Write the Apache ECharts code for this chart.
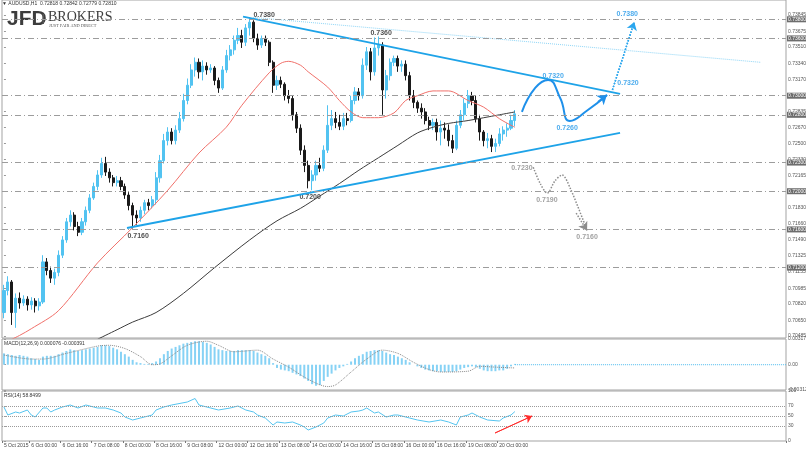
<!DOCTYPE html>
<html><head><meta charset="utf-8">
<script src="https://cdn.jsdelivr.net/npm/echarts/dist/echarts.min.js"></script>
<style>html,body{margin:0;padding:0;background:#fff}#c{width:806px;height:450px}</style>
</head><body><div id="c"></div>
<script>
// ---------------- DATA ----------------
const NCAT = 201; // 2-hour slots across the whole window (data + empty future area)
const xTickIdx = [0,7,15,23,31,39,47,55,63,71,79,87,95,103,111,119,127];
const xTickText = ['5 Oct 2015','6 Oct 00:00','6 Oct 16:00','7 Oct 08:00','8 Oct 00:00','8 Oct 16:00','9 Oct 08:00','12 Oct 00:00','12 Oct 16:00','13 Oct 08:00','14 Oct 00:00','14 Oct 16:00','15 Oct 08:00','16 Oct 00:00','16 Oct 16:00','19 Oct 08:00','20 Oct 00:00'];
const yTickLabels = ['0.70485','0.70650','0.70820','0.70985','0.71155','0.71325','0.71490','0.71660','0.71830','0.71995','0.72165','0.72330','0.72500','0.72670','0.72835','0.73000','0.73170','0.73340','0.73510','0.73675','0.73845'];
const levelValues = [0.7380,0.7360,0.7300,0.7280,0.7230,0.7200,0.7160,0.7120];
const levelLabels = ['0.73800','0.73600','0.73000','0.72800','0.72300','0.72000','0.71600','0.71200'];
const macdTickValues = [-0.003123,0,0.003177];
const macdTickLabels = ['-0.003123','0.00','0.003177'];
const rsiTickValues = [0,30,50,70,100];
const rsiLevels = [30,50,70];

// candles: [open, close, low, high]
const candles = [
[0.7073,0.7096,0.7067,0.7102],[0.7096,0.7105,0.7091,0.7111],[0.7105,0.7073,0.7060,0.7107],[0.7073,0.7088,0.7057,0.7093],
[0.7088,0.7083,0.7077,0.7094],[0.7083,0.7087,0.7080,0.7091],[0.7087,0.7081,0.7075,0.7090],[0.7081,0.7085,0.7076,0.7089],
[0.7085,0.7080,0.7073,0.7088],[0.7080,0.7084,0.7075,0.7088],[0.7084,0.7126,0.7082,0.7133],[0.7126,0.7117,0.7112,0.7130],
[0.7117,0.7109,0.7104,0.7121],[0.7109,0.7115,0.7102,0.7119],[0.7115,0.7133,0.7111,0.7138],[0.7133,0.7149,0.7130,0.7153],
[0.7149,0.7168,0.7146,0.7172],[0.7168,0.7175,0.7163,0.7180],[0.7175,0.7163,0.7159,0.7178],[0.7163,0.7157,0.7153,0.7168],
[0.7157,0.7168,0.7154,0.7172],[0.7168,0.7180,0.7164,0.7184],[0.7180,0.7193,0.7177,0.7197],[0.7193,0.7205,0.7191,0.7209],
[0.7205,0.7217,0.7201,0.7222],[0.7217,0.7229,0.7214,0.7235],[0.7229,0.7220,0.7216,0.7236],[0.7220,0.7214,0.7209,0.7224],
[0.7214,0.7209,0.7205,0.7217],[0.7209,0.7211,0.7205,0.7216],[0.7211,0.7205,0.7201,0.7215],[0.7205,0.7196,0.7192,0.7208],
[0.7196,0.7185,0.7180,0.7199],[0.7185,0.7175,0.7161,0.7188],[0.7175,0.7172,0.7165,0.7180],[0.7172,0.7180,0.7168,0.7184],
[0.7180,0.7188,0.7176,0.7191],[0.7188,0.7185,0.7180,0.7192],[0.7185,0.7191,0.7182,0.7195],[0.7191,0.7214,0.7186,0.7220],
[0.7214,0.7232,0.7209,0.7238],[0.7232,0.7253,0.7229,0.7260],[0.7253,0.7262,0.7248,0.7267],[0.7262,0.7253,0.7249,0.7266],
[0.7253,0.7264,0.7249,0.7269],[0.7264,0.7276,0.7261,0.7283],[0.7276,0.7295,0.7273,0.7302],[0.7295,0.7311,0.7291,0.7318],
[0.7311,0.7327,0.7308,0.7333],[0.7327,0.7335,0.7320,0.7340],[0.7335,0.7325,0.7318,0.7339],[0.7325,0.7331,0.7316,0.7337],
[0.7331,0.7327,0.7322,0.7335],[0.7327,0.7329,0.7324,0.7333],[0.7329,0.7316,0.7311,0.7331],[0.7316,0.7308,0.7303,0.7319],
[0.7308,0.7327,0.7306,0.7331],[0.7327,0.7342,0.7324,0.7348],[0.7342,0.7348,0.7337,0.7353],[0.7348,0.7358,0.7343,0.7363],
[0.7358,0.7363,0.7354,0.7371],[0.7363,0.7356,0.7350,0.7369],[0.7356,0.7371,0.7352,0.7375],[0.7371,0.7377,0.7363,0.7382],
[0.7377,0.7360,0.7356,0.7379],[0.7360,0.7353,0.7348,0.7365],[0.7353,0.7360,0.7350,0.7363],[0.7360,0.7356,0.7352,0.7363],
[0.7356,0.7335,0.7331,0.7358],[0.7335,0.7311,0.7303,0.7337],[0.7311,0.7316,0.7306,0.7321],[0.7316,0.7312,0.7308,0.7320],
[0.7312,0.7300,0.7295,0.7314],[0.7300,0.7297,0.7292,0.7306],[0.7297,0.7280,0.7274,0.7300],[0.7280,0.7266,0.7261,0.7283],
[0.7266,0.7243,0.7238,0.7270],[0.7243,0.7227,0.7220,0.7248],[0.7227,0.7211,0.7203,0.7232],[0.7211,0.7217,0.7201,0.7222],
[0.7217,0.7227,0.7211,0.7232],[0.7227,0.7224,0.7220,0.7235],[0.7224,0.7243,0.7221,0.7248],[0.7243,0.7269,0.7240,0.7290],
[0.7269,0.7276,0.7264,0.7285],[0.7276,0.7272,0.7266,0.7283],[0.7272,0.7268,0.7264,0.7280],[0.7268,0.7276,0.7264,0.7282],
[0.7276,0.7274,0.7269,0.7282],[0.7274,0.7295,0.7272,0.7300],[0.7295,0.7304,0.7291,0.7309],[0.7304,0.7300,0.7295,0.7308],
[0.7300,0.7332,0.7297,0.7339],[0.7332,0.7346,0.7327,0.7351],[0.7346,0.7325,0.7316,0.7350],[0.7325,0.7350,0.7321,0.7361],
[0.7350,0.7353,0.7342,0.7362],[0.7353,0.7306,0.7280,0.7356],[0.7306,0.7321,0.7297,0.7327],[0.7321,0.7335,0.7316,0.7339],
[0.7335,0.7339,0.7331,0.7342],[0.7339,0.7331,0.7325,0.7342],[0.7331,0.7333,0.7325,0.7337],[0.7333,0.7321,0.7316,0.7337],
[0.7321,0.7300,0.7295,0.7325],[0.7300,0.7293,0.7287,0.7306],[0.7293,0.7287,0.7282,0.7295],[0.7287,0.7283,0.7276,0.7292],
[0.7283,0.7274,0.7270,0.7287],[0.7274,0.7269,0.7264,0.7278],[0.7269,0.7272,0.7264,0.7276],[0.7272,0.7262,0.7253,0.7276],
[0.7262,0.7266,0.7248,0.7274],[0.7266,0.7264,0.7255,0.7272],[0.7264,0.7253,0.7247,0.7270],[0.7253,0.7245,0.7240,0.7259],
[0.7245,0.7269,0.7243,0.7274],[0.7269,0.7280,0.7266,0.7285],[0.7280,0.7292,0.7274,0.7297],[0.7292,0.7300,0.7287,0.7306],
[0.7300,0.7295,0.7290,0.7304],[0.7295,0.7276,0.7272,0.7300],[0.7276,0.7262,0.7253,0.7280],[0.7262,0.7253,0.7247,0.7264],
[0.7253,0.7255,0.7245,0.7261],[0.7255,0.7247,0.7241,0.7259],[0.7247,0.7250,0.7241,0.7255],[0.7250,0.7260,0.7247,0.7266],
[0.7260,0.7264,0.7253,0.7268],[0.7264,0.7266,0.7257,0.7271],[0.7266,0.7274,0.7264,0.7280],[0.7274,0.7281,0.7268,0.7285]
];

// moving averages, read at selected bars: [barIndex, price]
const maRed = [[0,0.7041],[4,0.7049],[7,0.7056],[14,0.7075],[24,0.7125],[33,0.7162],[42,0.7201],[50,0.7240],[57,0.7267],[61,0.7290],[68,0.7324],[71,0.7334],[73,0.7336],[76,0.7332],[78,0.7325],[83,0.7309],[86,0.7295],[89,0.7283],[92,0.7277],[96,0.7277],[100,0.7282],[103,0.7295],[106,0.7300],[110,0.7305],[114,0.7305],[119,0.7295],[123,0.7288],[127,0.7276],[130,0.7269],[131,0.7267]];
const maBlack = [[24,0.7045],[29,0.7055],[33,0.7063],[39,0.7073],[46,0.7093],[54,0.7120],[63,0.7149],[70,0.7169],[76,0.7182],[81,0.7195],[86,0.7208],[91,0.7222],[96,0.7235],[101,0.7248],[106,0.7261],[110,0.7267],[114,0.7271],[119,0.7274],[127,0.7280],[131,0.7283]];

// MACD histogram per bar
const macdHist = [0.0014,0.0013,0.0012,0.0011,0.0012,0.0011,0.0010,0.0008,0.0007,0.0006,
0.0010,0.0011,0.0011,0.0011,0.0013,0.0015,0.0017,0.0019,0.0018,0.0017,
0.0018,0.0019,0.0020,0.0021,0.0022,0.0024,0.0024,0.0023,0.0021,0.0019,
0.0016,0.0013,0.0010,0.0006,0.0003,0.0002,0.0001,0.0001,0.0002,0.0004,
0.0008,0.0013,0.0017,0.0020,0.0022,0.0024,0.0026,0.0027,0.0028,0.0029,
0.0029,0.0028,0.0027,0.0025,0.0022,0.0019,0.0018,0.0017,0.0017,0.0017,
0.0018,0.0018,0.0018,0.0018,0.0017,0.0015,0.0013,0.0011,0.0008,0.0002,
-0.0004,-0.0006,-0.0007,-0.0008,-0.0010,-0.0012,-0.0014,-0.0017,-0.0020,-0.0024,
-0.0026,-0.0025,-0.0020,-0.0015,-0.0011,-0.0007,-0.0004,-0.0002,0.0001,0.0004,
0.0008,0.0011,0.0013,0.0016,0.0017,0.0018,0.0018,0.0017,0.0015,0.0013,
0.0012,0.0010,0.0008,0.0006,0.0003,0.0000,-0.0002,-0.0004,-0.0006,-0.0007,
-0.0008,-0.0008,-0.0009,-0.0009,-0.0009,-0.0009,-0.0008,-0.0006,-0.0004,-0.0003,
-0.0002,-0.0003,-0.0005,-0.0007,-0.0008,-0.0008,-0.0008,-0.0007,-0.0007,-0.0005,
-0.0002,0.0001];
const macdSignal = [[0,0.0012],[7,0.0007],[10,0.0007],[16,0.0014],[24,0.0023],[27,0.0024],[31,0.0020],[35,0.0010],[38,0.0000],[40,0.0001],[43,0.0011],[47,0.0024],[52,0.0029],[55,0.0024],[59,0.0016],[65,0.0018],[69,0.0007],[73,-0.0003],[78,-0.0018],[83,-0.0027],[85,-0.0025],[89,-0.0009],[93,0.0007],[97,0.0018],[101,0.0014],[105,0.0003],[109,-0.0006],[112,-0.0009],[119,-0.0008],[122,-0.0002],[126,-0.0003],[131,-0.0004]];

const rsi = [[0,68],[1,52],[3,58],[4,56],[6,62],[7,52],[8,48],[10,66],[11,66],[12,58],[13,62],[15,68],[17,72],[19,66],[21,72],[23,68],[24,66],[26,66],[28,62],[30,56],[31,48],[33,42],[35,46],[36,48],[38,52],[39,62],[41,68],[43,72],[47,78],[49,85],[50,72],[53,66],[55,62],[58,66],[60,70],[62,62],[64,58],[65,52],[67,46],[69,32],[70,38],[72,36],[74,38],[76,32],[77,28],[78,22],[80,28],[82,36],[83,46],[85,52],[87,50],[89,58],[91,60],[92,62],[93,66],[95,56],[96,58],[98,48],[100,52],[101,52],[104,46],[106,42],[109,38],[112,42],[114,38],[116,32],[117,48],[119,52],[120,56],[122,48],[124,42],[127,40],[128,46],[130,52],[131,58.85]];

// drawn analysis (bar position, price)
const upperLine = [[61.3,0.73829],[157.96,0.73018]];
const thinLine = [[63.9,0.7382],[193.9,0.7335]];
const lowerLine = [[31.55,0.71615],[157.96,0.72610]];
const waveBlue = [[132.8,0.72830],[136.2,0.73081],[139.5,0.73165],[142.6,0.72976],[145.1,0.72735],[149.7,0.72850],[154.6,0.73008]];
const waveArrow = [[152.3,0.72934],[154.6,0.73008]];
const dotBlue = [[156.0,0.73060],[161.6,0.73772]];
const pathGray = [[135.7,0.7225],[137.5,0.7208],[139.3,0.7198],[141.3,0.7211],[143.1,0.7217],[145.2,0.7203],[149.5,0.7159]];
const grayArrow = [[146.7,0.7177],[149.5,0.7159]];
const rsiArrow = [[125.9,16],[135.4,50]];
const annX = [66.7,96.7,78.5,34.4,140.8,144.4,160.0,159.8,132.8,139.2,149.5];
const annY = [0.7384,0.7366,0.7194,0.7153,0.73206,0.72662,0.73133,0.73856,0.7224,0.7191,0.7152];
const annText = ['0.7380','0.7360','0.7200','0.7160','0.7320','0.7260','0.7320','0.7380','0.7230','0.7190','0.7160'];
const annColor = ['#222','#222','#222','#222','#1e96e8','#1e96e8','#1e96e8','#1e96e8','#8a8a8a','#8a8a8a','#8a8a8a'];

// ---------------- CHART ----------------
const FONT = 'Liberation Sans, Arial, sans-serif';
const tickMap = {}; xTickIdx.forEach((k,j)=>{tickMap[k]=xTickText[j];});
const cats = Array.from({length:NCAT},(_,i)=>String(i));
const yTickVals = yTickLabels.map(Number);
const BLUE='#1ea3e8';

function catAxis(gi, labels){
  return {type:'category', gridIndex:gi, data:cats, boundaryGap:true,
    axisLine:{show:false}, splitLine:{show:false},
    axisTick: labels ? {show:true, length:2, interval:(i)=>tickMap[i]!==undefined, lineStyle:{color:'#777'}} : {show:false},
    axisLabel: labels ? {show:true, interval:0, align:'left', fontSize:5, color:'#444', fontFamily:FONT, margin:2,
        formatter:(v,i)=>tickMap[i]||''} : {show:false}};
}
function valX(gi){ return {type:'value', gridIndex:gi, min:-0.5, max:NCAT-0.5, show:false}; }

const levelPairs = levelValues.map((v,k)=>[
  {coord:[-0.5, v], symbol:'none'},
  {coord:[NCAT-0.5, v], symbol:'none', label:{show:true, position:'end', distance:1, formatter:levelLabels[k], backgroundColor:'#6d6d6d', color:'#fff', fontSize:5, fontFamily:FONT, padding:[1,1,0,1]}}
]);

const chart = echarts.init(document.getElementById('c'));
chart.setOption({
  animation:false,
  backgroundColor:'#fff',
  grid:[
    {left:2, right:20, top:0, height:338, show:true, borderColor:'#a3a3a3', borderWidth:1, backgroundColor:'transparent', containLabel:false, outerBoundsMode:'none'},
    {left:2, right:20, top:339, height:51, show:true, borderColor:'#a3a3a3', borderWidth:1, backgroundColor:'transparent', containLabel:false, outerBoundsMode:'none'},
    {left:2, right:20, top:391, height:50, show:true, borderColor:'#a3a3a3', borderWidth:1, backgroundColor:'transparent', containLabel:false, outerBoundsMode:'none'}
  ],
  xAxis:[catAxis(0,false), valX(0), catAxis(1,false), valX(1), catAxis(2,true), valX(2)],
  yAxis:[
    {type:'value', gridIndex:0, position:'right', min:0.704632, max:0.740021,
     axisLine:{show:false}, splitLine:{show:false},
     axisTick:{show:true, length:2, customValues:yTickVals, lineStyle:{color:'#999'}},
     axisLabel:{show:true, customValues:yTickVals, fontSize:5, color:'#555', fontFamily:FONT, margin:2,
       formatter:(v)=>{const k=yTickVals.findIndex(t=>Math.abs(t-v)<1e-7); return k>=0?yTickLabels[k]:'';}}},
    {type:'value', gridIndex:1, position:'right', min:-0.003123, max:0.003177,
     axisLine:{show:false}, splitLine:{show:false},
     axisTick:{show:true, length:2, customValues:macdTickValues, lineStyle:{color:'#999'}},
     axisLabel:{show:true, customValues:macdTickValues, fontSize:5, color:'#555', fontFamily:FONT, margin:2,
       formatter:(v)=>{const k=macdTickValues.findIndex(t=>Math.abs(t-v)<1e-9); return k>=0?macdTickLabels[k]:'';}}},
    {type:'value', gridIndex:2, position:'right', min:0, max:100,
     axisLine:{show:false}, splitLine:{show:false},
     axisTick:{show:true, length:2, customValues:rsiTickValues, lineStyle:{color:'#999'}},
     axisLabel:{show:true, customValues:rsiTickValues, fontSize:5, color:'#555', fontFamily:FONT, margin:2,
       formatter:(v)=>String(Math.round(v))}}
  ],
  series:[
    {type:'line', name:'levels', xAxisIndex:1, yAxisIndex:0, data:[], silent:true,
     markLine:{silent:true, symbol:['none','none'], animation:false,
       lineStyle:{color:'#9c9c9c', type:[6,3,1,3], width:1},
       label:{show:false}, emphasis:{disabled:true},
       data: levelPairs}},
    {type:'candlestick', name:'AUDUSD', xAxisIndex:0, yAxisIndex:0, data:candles, barWidth:2.6, silent:true,
     itemStyle:{color:'#52c3f1', color0:'#1a1a1a', borderColor:'#52c3f1', borderColor0:'#1a1a1a', borderWidth:1}},
    {type:'line', name:'MA slow', xAxisIndex:1, yAxisIndex:0, data:maBlack, showSymbol:false, smooth:0.3, silent:true, lineStyle:{color:'#3c3c3c', width:1}},
    {type:'line', name:'MA fast', xAxisIndex:1, yAxisIndex:0, data:maRed, showSymbol:false, smooth:0.3, silent:true, lineStyle:{color:'#f0706a', width:1}},
    {type:'line', xAxisIndex:1, yAxisIndex:0, data:thinLine, showSymbol:false, silent:true, lineStyle:{color:'#8fd6f7', width:1, type:'dotted'}},
    {type:'line', xAxisIndex:1, yAxisIndex:0, data:upperLine, showSymbol:false, silent:true, lineStyle:{color:BLUE, width:1.8}},
    {type:'line', xAxisIndex:1, yAxisIndex:0, data:lowerLine, showSymbol:false, silent:true, lineStyle:{color:BLUE, width:1.8}},
    {type:'line', xAxisIndex:1, yAxisIndex:0, data:waveBlue, showSymbol:false, smooth:0.5, silent:true, lineStyle:{color:'#1e90ea', width:2},
     markLine:{silent:true, symbol:['none','arrow'], symbolSize:9, label:{show:false}, lineStyle:{color:'#1e90ea', width:2, type:'solid'},
       data:[[{coord:waveArrow[0]},{coord:waveArrow[1]}]]}},
    {type:'line', xAxisIndex:1, yAxisIndex:0, data:dotBlue, showSymbol:false, silent:true, lineStyle:{color:'#2aa6ee', width:1.5, type:'dotted'},
     markLine:{silent:true, symbol:['none','arrow'], symbolSize:8, label:{show:false}, lineStyle:{color:'#2aa6ee', width:1.5, type:'dotted'},
       data:[[{coord:dotBlue[0]},{coord:dotBlue[1]}]]}},
    {type:'line', xAxisIndex:1, yAxisIndex:0, data:pathGray, showSymbol:false, smooth:0.3, silent:true, lineStyle:{color:'#8c8c8c', width:1.5, type:'dotted'},
     markLine:{silent:true, symbol:['none','arrow'], symbolSize:8, label:{show:false}, lineStyle:{color:'#8c8c8c', width:1.5, type:'dotted'},
       data:[[{coord:grayArrow[0]},{coord:grayArrow[1]}]]}},
    {type:'scatter', xAxisIndex:1, yAxisIndex:0, symbolSize:1, silent:true, itemStyle:{color:'rgba(0,0,0,0)'},
     data: annX.map((x,i)=>({value:[x,annY[i]], label:{color:annColor[i]}})),
     label:{show:true, position:'inside', formatter:(p)=>annText[p.dataIndex], fontSize:7, fontWeight:'bold', fontFamily:FONT}},
    // MACD panel
    {type:'bar', name:'MACD', xAxisIndex:2, yAxisIndex:1, data:macdHist, barWidth:2, silent:true, itemStyle:{color:'#86d2f5'}},
    {type:'line', name:'Signal', xAxisIndex:3, yAxisIndex:1, data:macdSignal, showSymbol:false, smooth:0.3, silent:true, lineStyle:{color:'#8a8a8a', width:1, type:'dotted'}},
    {type:'line', xAxisIndex:3, yAxisIndex:1, data:[[131,0],[200.5,0]], showSymbol:false, silent:true, lineStyle:{color:'#4dbbee', width:1, type:'dotted'}},
    // RSI panel
    {type:'line', name:'RSI', xAxisIndex:5, yAxisIndex:2, data:rsi, showSymbol:false, silent:true, lineStyle:{color:'#55c4ef', width:1},
     markLine:{silent:true, symbol:['none','none'], label:{show:false}, lineStyle:{color:'#9a9a9a', width:1, type:'dotted'},
       data: rsiLevels.map(v=>[{coord:[-0.5,v]},{coord:[NCAT-0.5,v]}])}},
    {type:'line', xAxisIndex:5, yAxisIndex:2, data:rsiArrow, showSymbol:false, silent:true, lineStyle:{color:'#ff5a5a', width:1},
     markLine:{silent:true, symbol:['none','arrow'], symbolSize:7, label:{show:false}, lineStyle:{color:'#ff2a2a', width:1, type:'solid'},
       data:[[{coord:rsiArrow[0]},{coord:rsiArrow[1]}]]}}
  ],
  graphic:[
    {type:'text', x:2, y:1, style:{text:'\u25BC AUDUSD,H1  0.72818 0.72842 0.72779 0.72810', fontSize:5, fontFamily:FONT, fill:'#333', verticalAlign:'top'}},
    {type:'text', x:7, y:9, style:{text:'JFD', fontSize:21, fontWeight:'bold', fontFamily:'Liberation Sans Narrow, Liberation Sans, Arial', fill:'#3d3d3d', verticalAlign:'top'}},
    {type:'rect', shape:{x:42.5, y:14, width:1.5, height:10}, style:{fill:'#555'}},
    {type:'text', x:48, y:10, style:{text:'BROKERS', fontSize:14, fontFamily:'Liberation Serif, serif', fill:'#3d3d3d', verticalAlign:'top'}},
    {type:'text', x:49, y:23.5, style:{text:'JUST FAIR AND DIRECT', fontSize:4.3, fontFamily:'Liberation Serif, serif', fill:'#555', verticalAlign:'top'}},
    {type:'text', x:4, y:341, style:{text:'MACD(12,26,9) 0.000076 -0.000391', fontSize:5, fontFamily:FONT, fill:'#333', verticalAlign:'top'}},
    {type:'text', x:4, y:393, style:{text:'RSI(14) 58.8499', fontSize:5, fontFamily:FONT, fill:'#333', verticalAlign:'top'}}
  ]
});
</script></body></html>
